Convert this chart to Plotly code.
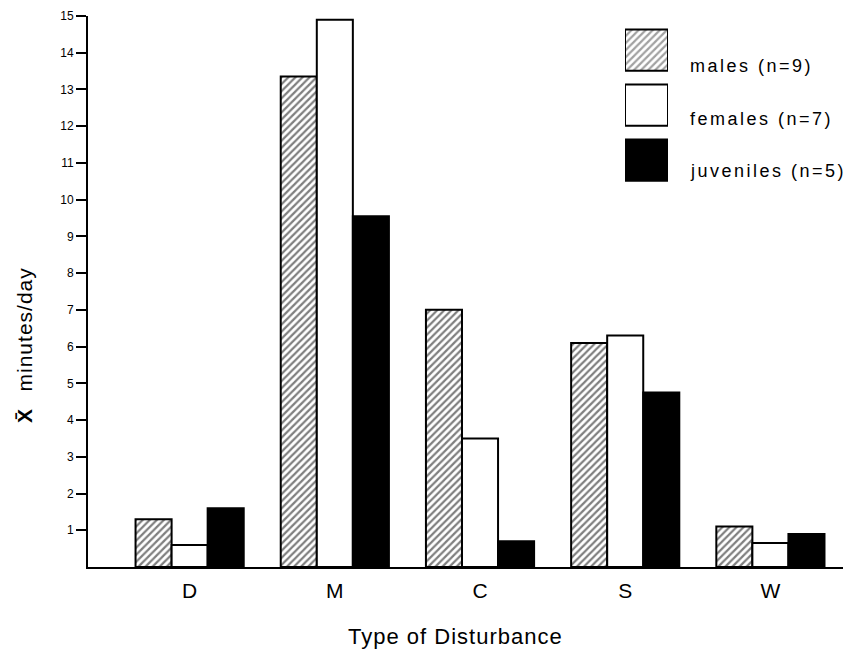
import plotly.graph_objects as go

categories = ["D", "M", "C", "S", "W"]
males = [1.3, 13.35, 7.0, 6.1, 1.1]
females = [0.6, 14.9, 3.5, 6.3, 0.65]
juveniles = [1.6, 9.55, 0.7, 4.75, 0.9]
legend_labels = ["males (n=9)", "females (n=7)", "juveniles (n=5)"]
y_ticks = list(range(1, 16))
x_title = "Type of Disturbance"
y_title = "minutes/day"

# the page body has an 8px margin: lay out in page pixels, shifted by OFF
OFF = 8
W, H = 857 - OFF, 649 - OFF
ml = 88 - OFF
mt = 16 - OFF
mb = H - (567 - OFF)
mr = W - (843 - OFF)
pw, ph = W - ml - mr, H - mt - mb


def px_x(p):
    return (p - OFF - ml) / pw


def px_y(p):
    return (H - mb - (p - OFF)) / ph


fnt = "Liberation Sans, Arial, sans-serif"
line = dict(color="black", width=2)
hatch = dict(shape="/", fgcolor="black", bgcolor="white", size=5, solidity=0.45)

fig = go.Figure()
fig.add_bar(x=categories, y=males, name=legend_labels[0],
            marker=dict(color="white", line=line, pattern=hatch))
fig.add_bar(x=categories, y=females, name=legend_labels[1],
            marker=dict(color="white", line=line))
fig.add_bar(x=categories, y=juveniles, name=legend_labels[2],
            marker=dict(color="black", line=line))

# legend boxes drawn as bars on an overlay axis
fig.add_bar(x=[1, 1, 1], y=[0, 1, 2], orientation="h", xaxis="x2", yaxis="y2",
            width=0.75, showlegend=False, hoverinfo="skip",
            marker=dict(color=["white", "white", "black"], line=line,
                        pattern=dict(shape=["/", "", ""], fgcolor="black", bgcolor="white",
                                     size=5, solidity=0.45)))

label_y = [66, 119, 171]
for lab, yy in zip(legend_labels, label_y):
    fig.add_annotation(text=f'<span style="letter-spacing:2.5px">{lab}</span>',
                       x=px_x(688), y=px_y(yy), xref="paper", yref="paper",
                       xanchor="left", yanchor="middle", showarrow=False,
                       font=dict(family=fnt, size=18, color="black"))

fig.add_annotation(text=f'<span style="letter-spacing:1px">{x_title}</span>',
                   x=px_x(455), y=px_y(636), xref="paper", yref="paper",
                   xanchor="center", yanchor="middle", showarrow=False,
                   font=dict(family=fnt, size=22, color="black"))

fig.add_annotation(text=f'<b>X̄</b>   <span style="letter-spacing:1px">{y_title}</span>',
                   x=px_x(24), y=px_y(345), xref="paper", yref="paper",
                   xanchor="center", yanchor="middle", showarrow=False, textangle=-90,
                   font=dict(family=fnt, size=21, color="black"))

fig.update_layout(
    width=W, height=H,
    margin=dict(l=ml, r=mr, t=mt, b=mb, autoexpand=False),
    paper_bgcolor="white", plot_bgcolor="white",
    barmode="group", bargap=0.255, bargroupgap=0,
    showlegend=False,
    font=dict(family=fnt, color="black"),
    xaxis=dict(range=[-0.70, 4.50], showline=True, linecolor="black", linewidth=2,
               ticks="", showgrid=False, zeroline=False, automargin=False,
               tickfont=dict(size=21), ticklabelstandoff=4),
    yaxis=dict(range=[0, 15], tickvals=y_ticks, showline=True, linecolor="black", linewidth=2,
               ticks="outside", ticklen=10, tickwidth=2, tickcolor="black", automargin=False,
               showgrid=False, zeroline=False, tickfont=dict(size=12)),
    xaxis2=dict(domain=[px_x(625), px_x(668)], range=[0, 1], visible=False, anchor="y2"),
    yaxis2=dict(domain=[px_y(187.5), px_y(22.5)], range=[2.5, -0.5], visible=False, anchor="x2"),
)

fig.write_html("out.html")
